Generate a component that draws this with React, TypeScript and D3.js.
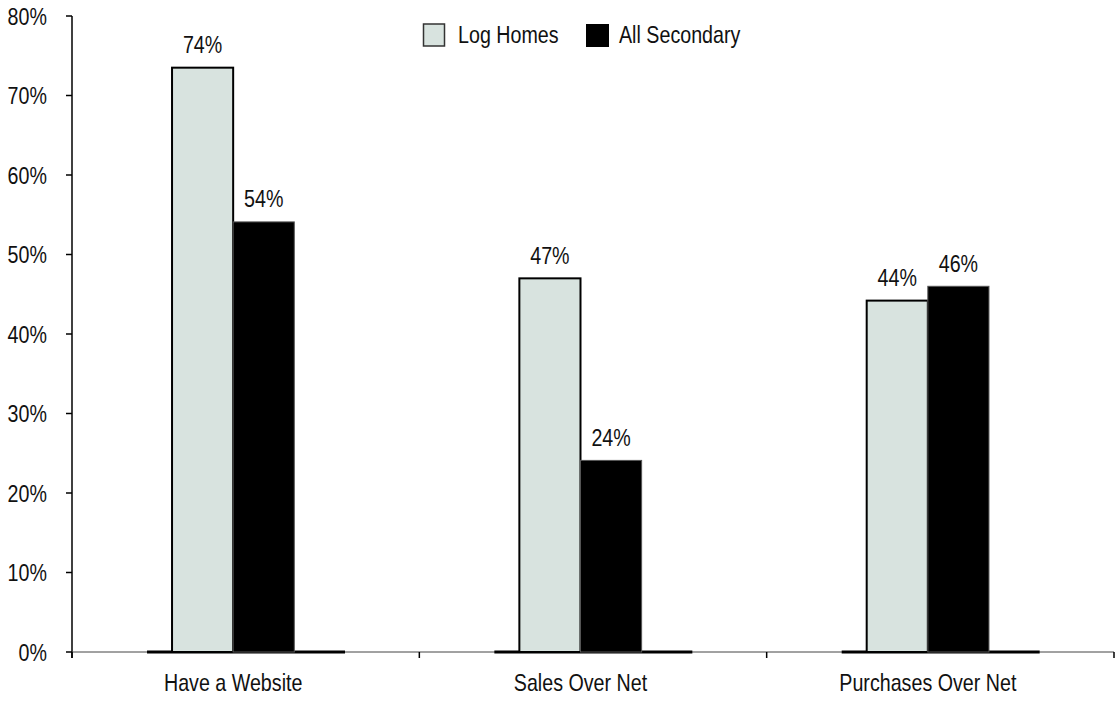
import React from "react";
import * as d3 from "d3";

const categories = ["Have a Website", "Sales Over Net", "Purchases Over Net"];
const seriesNames = ["Log Homes", "All Secondary"];
const logHomes = [73.5, 47, 44.2];
const allSecondary = [54.1, 24.1, 46];
const yTicks = [0, 10, 20, 30, 40, 50, 60, 70, 80];

const W = 1115;
const H = 701;
const FONT = "'Liberation Sans', Arial, sans-serif";
const NARROW = 0.82;
const fills = ["#d8e3df", "#000000"];

type LabelProps = {
  x: number;
  y: number;
  anchor?: "start" | "middle" | "end";
  children: React.ReactNode;
};

// Condensed text: Liberation Sans squeezed horizontally around its anchor point.
function Label({ x, y, anchor = "start", children }: LabelProps) {
  return (
    <g transform={`translate(${x},${y}) scale(${NARROW},1)`}>
      <text x={0} y={0} textAnchor={anchor} fontSize={24} fill="#111" fontFamily={FONT}>
        {children}
      </text>
    </g>
  );
}

export default function App() {
  const x = d3.scaleBand<string>().domain(categories).range([72, 1114]).padding(0);
  const bw = x.bandwidth();
  const x1 = d3.scaleBand<string>().domain(seriesNames).range([bw * 0.288, bw * 0.64]).padding(0);
  const y = d3.scaleLinear().domain([0, 80]).range([652, 16]);
  const values = [logHomes, allSecondary];

  return (
    <div style={{ position: "fixed", left: 0, top: 0 }}>
      <svg width={W} height={H} style={{ display: "block", background: "#fff" }}>
        {/* y axis */}
        <line x1={72} x2={72} y1={y(80)} y2={658} stroke="#000" strokeWidth={1.5} />
        {yTicks.map((t) => (
          <g key={t}>
            <line x1={66} x2={72} y1={y(t)} y2={y(t)} stroke="#000" strokeWidth={1.5} />
            <Label x={47} y={y(t) + 8.5} anchor="end">
              {t}%
            </Label>
          </g>
        ))}
        {/* x axis */}
        <line x1={72} x2={1114} y1={y(0)} y2={y(0)} stroke="#444" strokeWidth={1} />
        {[...categories.map((c) => x(c) as number), 1114].map((p, i) => (
          <line key={i} x1={p} x2={p} y1={y(0)} y2={658} stroke="#000" strokeWidth={1.5} />
        ))}
        {categories.map((c, ci) => {
          const x0 = x(c) as number;
          const cx = x0 + (bw * 0.288 + bw * 0.64) / 2;
          return (
            <g key={c}>
              <line x1={x0 + bw * 0.216} x2={x0 + bw * 0.786} y1={y(0)} y2={y(0)} stroke="#000" strokeWidth={3} />
              {seriesNames.map((s, si) => {
                const v = values[si][ci];
                const bx = x0 + (x1(s) as number);
                return (
                  <g key={s}>
                    <rect
                      x={bx}
                      y={y(v)}
                      width={x1.bandwidth()}
                      height={y(0) - y(v)}
                      fill={fills[si]}
                      stroke={si === 0 ? "#000" : "#555"}
                      strokeWidth={si === 0 ? 2 : 1}
                    />
                    <Label x={bx + x1.bandwidth() / 2} y={y(v) - 14.5} anchor="middle">
                      {Math.round(v)}%
                    </Label>
                  </g>
                );
              })}
              <Label x={cx} y={691} anchor="middle">
                {c}
              </Label>
            </g>
          );
        })}
        {/* legend */}
        <g>
          <rect x={423.5} y={24} width={21} height={22} fill={fills[0]} stroke="#333" strokeWidth={1.5} />
          <Label x={458} y={43}>{seriesNames[0]}</Label>
          <rect x={586} y={24} width={23} height={23} fill={fills[1]} />
          <Label x={619} y={43}>{seriesNames[1]}</Label>
        </g>
      </svg>
    </div>
  );
}
